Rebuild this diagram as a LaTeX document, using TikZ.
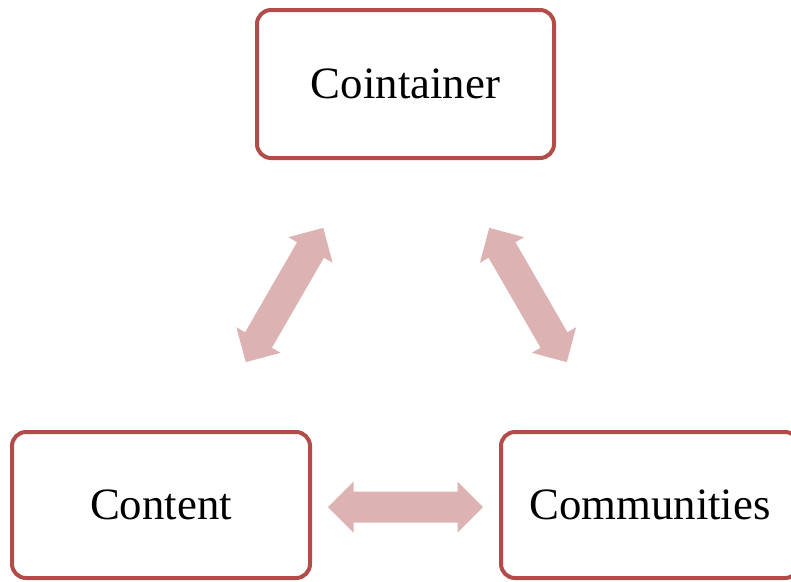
\documentclass[tikz,border=0pt]{standalone}
\usepackage{fontspec}
\setmainfont{Liberation Serif}
\definecolor{boxline}{HTML}{B24C49}
\definecolor{arrowfill}{HTML}{DCB2B2}
\tikzset{
  x=1pt, y=-1pt,
  cyclebox/.style={draw=boxline, line width=4pt, fill=white, rounded corners=14pt,
    minimum width=297pt, minimum height=146pt, inner sep=0pt,
    font=\fontsize{44.8}{54}\selectfont},
  blockarrow/.pic={
    \fill[arrowfill] (-77.5,0) -- (-52,25.5) -- (-52,15.5) -- (52,15.5) -- (52,25.5)
      -- (77.5,0) -- (52,-25.5) -- (52,-15.5) -- (-52,-15.5) -- (-52,-25.5) -- cycle;
  }
}
\begin{document}
\begin{tikzpicture}
\useasboundingbox (0,0) rectangle (791,581);
% the three stages
\node[cyclebox, minimum height=148pt] (container) at (405.5,84) {Cointainer};
\node[cyclebox, minimum width=298pt] (content) at (161,505) {Content};
\node[cyclebox, minimum width=298pt] (communities) at (650,505) {Communities};
% two-way block arrows between the stages
\pic[rotate=60] (leftarrow) at (284.5,295) {blockarrow};
\pic[rotate=-60] (rightarrow) at (528,295) {blockarrow};
\pic (bottomarrow) at (405.5,507) {blockarrow};
\end{tikzpicture}
\end{document}
